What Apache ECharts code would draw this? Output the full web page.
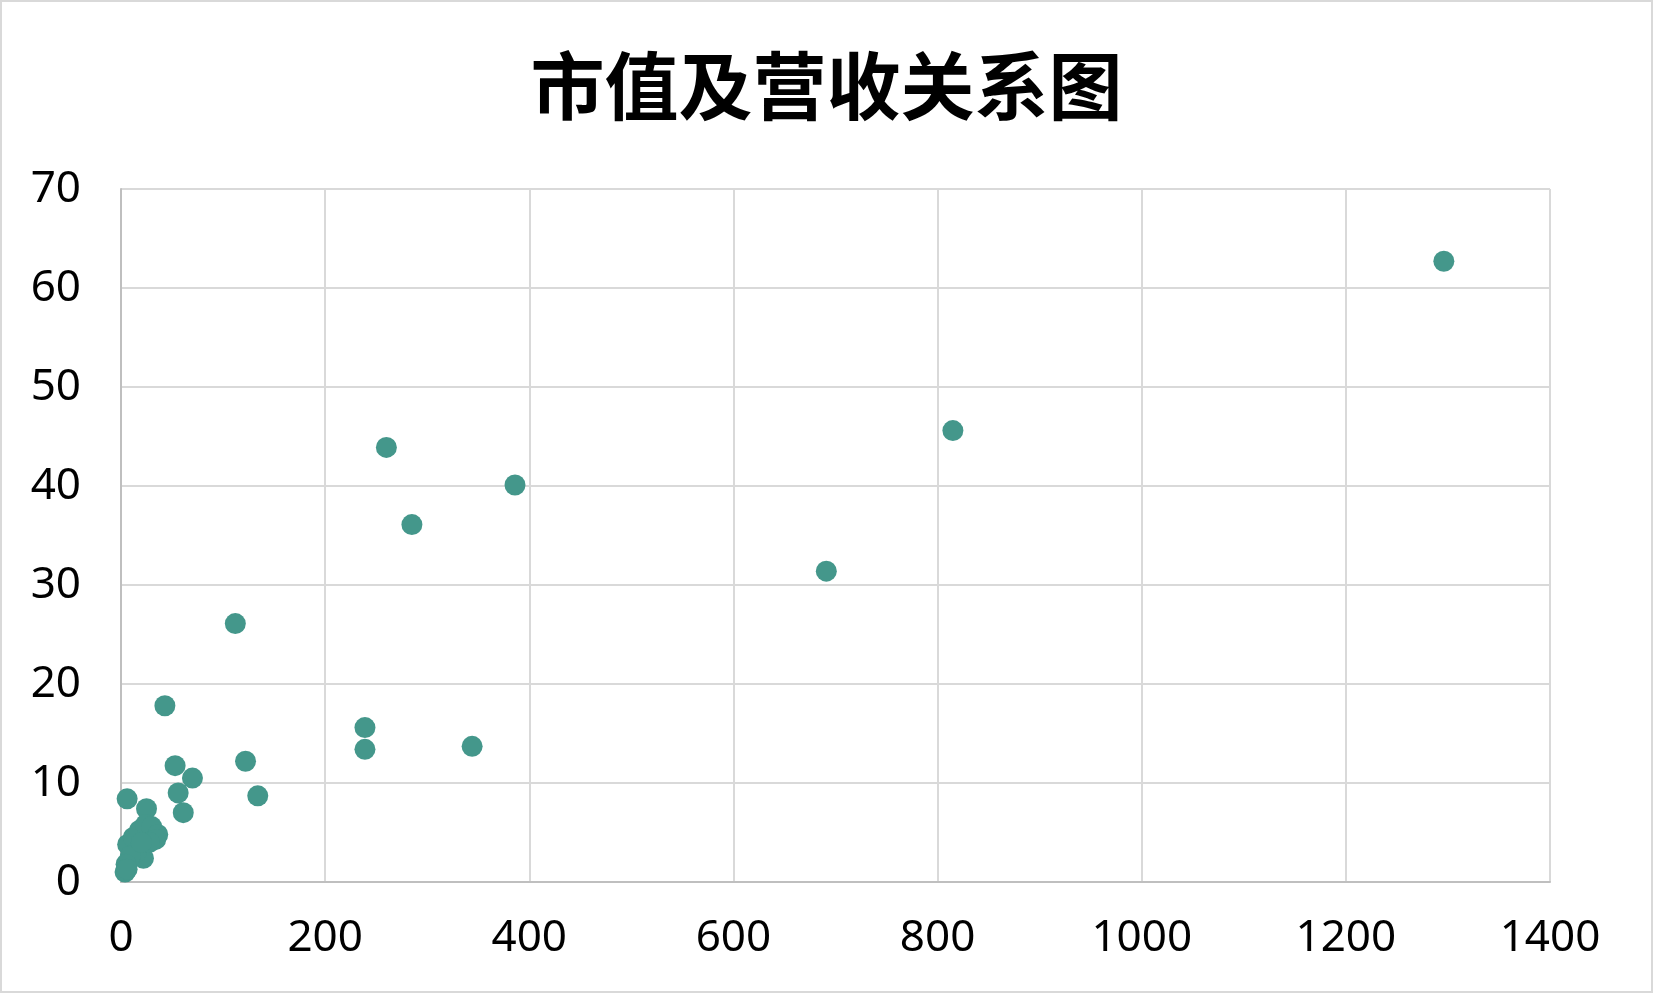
<!DOCTYPE html>
<html>
<head>
<meta charset="utf-8">
<script src="https://cdn.jsdelivr.net/npm/echarts@6/dist/echarts.min.js"></script>
<style>
html,body{margin:0;padding:0;background:#fff;}
#c{width:1653px;height:993px;}
</style>
</head>
<body>
<div id="c"></div>
<script>
// 市值 (x) and 营收 (y)
var marketCap = [1296, 815, 691, 386, 344, 285, 260, 239, 239, 134, 122, 112, 70, 61, 56, 53, 43, 25, 6,
                 6.5, 12, 18, 24, 30, 36, 34, 22, 15, 9, 5, 4, 6, 28, 20];
var revenue   = [62.7, 45.6, 31.4, 40.1, 13.7, 36.1, 43.9, 13.4, 15.6, 8.7, 12.2, 26.1, 10.5, 7.0, 9.0, 11.75, 17.8, 7.4, 8.4,
                 3.8, 4.5, 5.2, 5.8, 5.6, 4.8, 4.3, 2.4, 3.0, 2.6, 1.8, 1.0, 1.3, 4.0, 4.0];
var titleText = '市值及营收关系图';
var xTicks = {min: 0, max: 1400, interval: 200};
var yTicks = {min: 0, max: 70, interval: 10};

var points = marketCap.map(function (x, i) { return [x, revenue[i]]; });

var chart = echarts.init(document.getElementById('c'), null, {renderer: 'canvas'});
var labelFont = '"Noto Sans", "Noto Sans CJK SC", sans-serif';
chart.setOption({
  animation: false,
  backgroundColor: '#ffffff',
  title: {
    text: titleText,
    left: 'center',
    top: 44,
    textStyle: {
      fontFamily: '"Noto Sans CJK SC", sans-serif',
      fontWeight: 'bold',
      fontSize: 74,
      color: '#000000'
    }
  },
  graphic: [{
    type: 'rect',
    shape: {x: 1, y: 1, width: 1651, height: 991},
    style: {fill: 'none', stroke: '#d9d9d9', lineWidth: 2},
    silent: true
  }],
  grid: {left: 121, right: 103, top: 189, bottom: 111, containLabel: false},
  xAxis: {
    type: 'value',
    min: xTicks.min, max: xTicks.max, interval: xTicks.interval,
    axisLine: {show: true, lineStyle: {color: '#bfbfbf', width: 2}},
    axisTick: {show: false},
    axisLabel: {fontFamily: labelFont, fontSize: 44, color: '#000000', margin: 34,
                formatter: function (v) { return String(v); }},
    splitLine: {show: true, lineStyle: {color: '#d9d9d9', width: 2}}
  },
  yAxis: {
    type: 'value',
    min: yTicks.min, max: yTicks.max, interval: yTicks.interval,
    axisLine: {show: true, lineStyle: {color: '#bfbfbf', width: 2}},
    axisTick: {show: false},
    axisLabel: {fontFamily: labelFont, fontSize: 44, color: '#000000', margin: 40,
                formatter: function (v) { return String(v); }},
    splitLine: {show: true, lineStyle: {color: '#d9d9d9', width: 2}}
  },
  series: [{
    type: 'scatter',
    data: points,
    symbol: 'circle',
    symbolSize: 21,
    itemStyle: {color: '#44978b', opacity: 1}
  }]
});
</script>
</body>
</html>
